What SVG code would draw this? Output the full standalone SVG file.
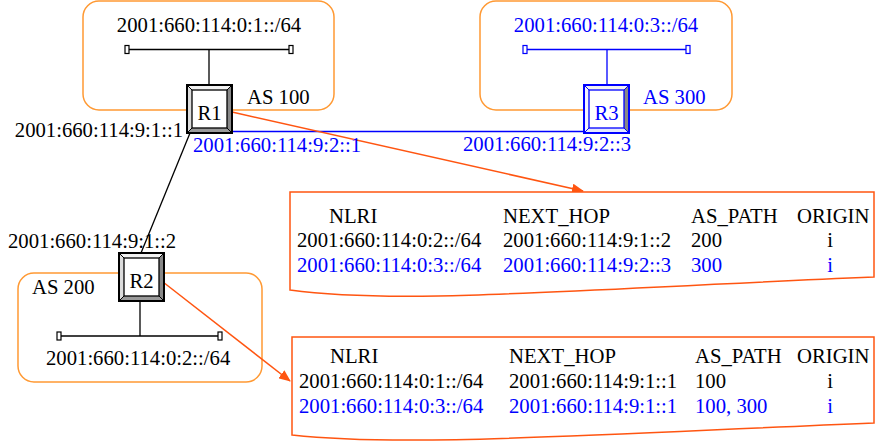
<svg xmlns="http://www.w3.org/2000/svg" xmlns:xlink="http://www.w3.org/1999/xlink" width="875" height="441" viewBox="0 0 875 441">
<style>
text{font-family:"Liberation Serif","Times New Roman",serif;font-size:20.7px;fill:#000}
.b{fill:#0000ff}
.m{text-anchor:middle}
.e{text-anchor:end}
.as{fill:none;stroke:#ff9933;stroke-width:1.5}
.tbl{fill:#fff;stroke:#ff5511;stroke-width:1.5}
.ln{stroke:#000;stroke-width:1.3;fill:none}
.lb{stroke:#0000ff;stroke-width:1.3;fill:none}
.arr{stroke:#ff5511;stroke-width:1.5;fill:none;marker-end:url(#ah)}
.term{fill:#fff;stroke-width:1.2}
.bot{fill:var(--bot,#9a9a9a)}
.lft{fill:var(--lft,#dcdcdc)}
</style>
<defs>
<marker id="ah" viewBox="0 0 12 10" refX="11" refY="5" markerWidth="12" markerHeight="10" markerUnits="userSpaceOnUse" orient="auto">
<path d="M0,0 L12,5 L0,10 Z" fill="#ff5511"/>
</marker>
<symbol id="router" viewBox="0 0 45 48" overflow="visible">
<rect x="0" y="0" width="45" height="48" fill="#fff"/>
<polygon points="0,0 45,0 40,5 5,5" fill="#f2f2f2"/>
<polygon class="lft" points="0,0 5,5 5,43 0,48"/>
<polygon points="45,0 45,48 40,43 40,5" fill="#888"/>
<polygon class="bot" points="0,48 45,48 40,43 5,43"/>
<rect x="5" y="5" width="35" height="38" fill="#fff" stroke="currentColor" stroke-width="1.3"/>
<path d="M0,0 L5,5 M45,0 L40,5 M45,48 L40,43 M0,48 L5,43" stroke="currentColor" stroke-width="1"/>
<rect x="0" y="0" width="45" height="48" fill="none" stroke="currentColor" stroke-width="2"/>
</symbol>
</defs>

<g id="as100">
<rect class="as" x="83" y="1" width="251" height="109" rx="16"/>
<text x="209" y="32" class="m">2001:660:114:0:1::/64</text>
<text x="247" y="104">AS 100</text>
</g>
<g id="as300">
<rect class="as" x="480" y="1" width="252" height="109" rx="16"/>
<text x="606" y="32" class="m b">2001:660:114:0:3::/64</text>
<text x="643" y="104" class="b">AS 300</text>
</g>
<g id="as200">
<rect class="as" x="18" y="273" width="244" height="109" rx="16"/>
<text x="32" y="294">AS 200</text>
<text x="46" y="365">2001:660:114:0:2::/64</text>
</g>

<g id="connectors">
<line class="ln" x1="128" y1="49.5" x2="289" y2="49.5"/>
<rect class="term" stroke="#000" x="125" y="45.5" width="4" height="8"/>
<rect class="term" stroke="#000" x="289" y="45.5" width="4" height="8"/>
<line class="ln" x1="209" y1="49.5" x2="209" y2="85"/>
<line class="lb" x1="527" y1="49.5" x2="686" y2="49.5"/>
<rect class="term" stroke="#0000ff" x="523" y="45.5" width="4" height="8"/>
<rect class="term" stroke="#0000ff" x="686" y="45.5" width="4" height="8"/>
<line class="lb" x1="607" y1="49.5" x2="607" y2="85"/>
<line class="lb" x1="232" y1="131.5" x2="584" y2="131.5"/>
<line class="ln" x1="190" y1="133" x2="141" y2="253"/>
<line class="ln" x1="140" y1="301" x2="140" y2="336"/>
<line class="ln" x1="61" y1="336" x2="218" y2="336"/>
<rect class="term" stroke="#000" x="57" y="332" width="4" height="8"/>
<rect class="term" stroke="#000" x="218" y="332" width="4" height="8"/>
<line class="arr" x1="232" y1="112" x2="583" y2="191"/>
<line class="arr" x1="163" y1="282" x2="290" y2="381"/>
</g>

<g id="R1">
<use xlink:href="#router" href="#router" x="187" y="85" width="45" height="48" style="color:#000"/>
<text x="209.5" y="120" class="m">R1</text>
<text x="183" y="137" class="e">2001:660:114:9:1::1</text>
<text x="193" y="152" class="b">2001:660:114:9:2::1</text>
</g>
<g id="R3">
<use xlink:href="#router" href="#router" x="584" y="85" width="45" height="48" style="color:#0000ff;--bot:#e4e8ff;--lft:#f4f4ff"/>
<text x="606.5" y="120" class="m b">R3</text>
<text x="463" y="151" class="b">2001:660:114:9:2::3</text>
</g>
<g id="R2">
<use xlink:href="#router" href="#router" x="119" y="253" width="45" height="48" style="color:#000"/>
<text x="141.5" y="288" class="m">R2</text>
<text x="8" y="248">2001:660:114:9:1::2</text>
</g>

<g id="table1">
<path class="tbl" d="M874,192 H290 V290 C400,305 560,290 874,277 Z"/>
<text x="329" y="223">NLRI</text>
<text x="503" y="223">NEXT_HOP</text>
<text x="691" y="223">AS_PATH</text>
<text x="797" y="223">ORIGIN</text>
<text x="297" y="247">2001:660:114:0:2::/64</text>
<text x="503" y="247">2001:660:114:9:1::2</text>
<text x="691" y="247">200</text>
<text x="830" y="247" class="m">i</text>
<text x="297" y="272" class="b">2001:660:114:0:3::/64</text>
<text x="503" y="272" class="b">2001:660:114:9:2::3</text>
<text x="691" y="272" class="b">300</text>
<text x="830" y="272" class="m b">i</text>
</g>

<g id="table2">
<path class="tbl" d="M874,337 H292 V435 C400,447 560,436 874,423 Z"/>
<text x="330" y="363">NLRI</text>
<text x="509" y="363">NEXT_HOP</text>
<text x="695" y="363">AS_PATH</text>
<text x="797" y="363">ORIGIN</text>
<text x="299" y="388">2001:660:114:0:1::/64</text>
<text x="509" y="388">2001:660:114:9:1::1</text>
<text x="695" y="388">100</text>
<text x="830" y="388" class="m">i</text>
<text x="299" y="413" class="b">2001:660:114:0:3::/64</text>
<text x="509" y="413" class="b">2001:660:114:9:1::1</text>
<text x="695" y="413" class="b">100, 300</text>
<text x="830" y="413" class="m b">i</text>
</g>
</svg>
